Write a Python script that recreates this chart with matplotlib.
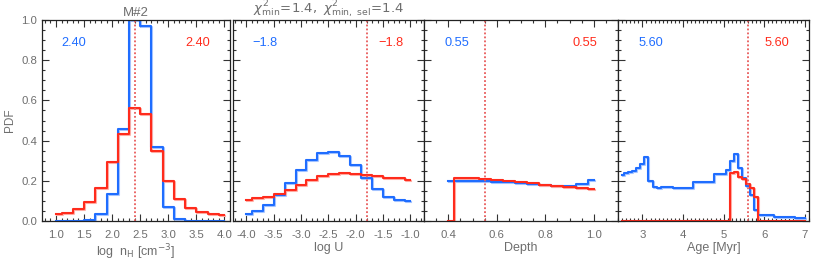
import matplotlib
matplotlib.use("Agg")
import matplotlib.pyplot as plt
from matplotlib.ticker import MultipleLocator, FormatStrFormatter
from matplotlib.transforms import offset_copy

plt.rcParams['font.family'] = ['Liberation Sans', 'DejaVu Sans']
plt.rcParams['mathtext.fontset'] = 'dejavusans'

# bin centres and PDFs
nh_x = [1.0, 1.2, 1.4, 1.6, 1.8, 2.0, 2.2, 2.4, 2.6, 2.8, 3.0, 3.2, 3.4, 3.6, 3.8, 4.0]
nh_blue = [0.0, 0.0, 0.0, 0.005, 0.033, 0.136, 0.46, 1.0, 0.97, 0.37, 0.068, 0.008, 0.002, 0.0, 0.0, 0.0]
nh_red = [0.033, 0.041, 0.06, 0.096, 0.163, 0.293, 0.431, 0.56, 0.534, 0.35, 0.199, 0.108, 0.063, 0.043, 0.035, 0.028]

logu_x = [-4.0, -3.8, -3.6, -3.4, -3.2, -3.0, -2.8, -2.6, -2.4, -2.2, -2.0, -1.8, -1.6, -1.4, -1.2, -1.0]
logu_blue = [0.036, 0.051, 0.081, 0.129, 0.19, 0.252, 0.305, 0.34, 0.345, 0.325, 0.277, 0.214, 0.158, 0.121, 0.106, 0.101]
logu_red = [0.106, 0.114, 0.121, 0.134, 0.154, 0.179, 0.203, 0.222, 0.234, 0.239, 0.235, 0.227, 0.222, 0.215, 0.212, 0.205]

depth_x = [0.4, 0.45, 0.5, 0.55, 0.6, 0.65, 0.7, 0.75, 0.8, 0.85, 0.9, 0.95, 1.0]
depth_blue = [0.2, 0.2, 0.2, 0.199, 0.196, 0.193, 0.19, 0.185, 0.18, 0.176, 0.175, 0.183, 0.205]
depth_red = [0.0, 0.216, 0.213, 0.209, 0.205, 0.2, 0.195, 0.187, 0.181, 0.175, 0.17, 0.166, 0.161]

age_x = [2.5, 2.6, 2.7, 2.8, 2.9, 3.0, 3.1, 3.2, 3.3, 3.4, 3.5, 4.0, 4.5,
         5.0, 5.1, 5.2, 5.3, 5.4, 5.5, 5.6, 5.7, 5.8, 5.9, 6.0, 6.5, 7.0]
age_blue = [0.229, 0.237, 0.242, 0.25, 0.265, 0.284, 0.317, 0.2, 0.171, 0.163, 0.171, 0.166, 0.196,
            0.232, 0.254, 0.3, 0.332, 0.262, 0.215, 0.176, 0.129, 0.055, 0.03, 0.03, 0.021, 0.014]
age_red = [0, 0, 0, 0, 0, 0, 0, 0, 0, 0, 0, 0, 0,
           0, 0, 0.24, 0.245, 0.22, 0.207, 0.183, 0.166, 0.118, 0, 0, 0, 0]

best_labels = ['2.40', '\u22121.8', '0.55', '5.60']
best_vals = [2.40, -1.8, 0.55, 5.60]
xlabels = [r'log  n$_{\rm H}$ [cm$^{-3}$]', 'log U', 'Depth', 'Age [Myr]']
titles = ['M#2', r'$\chi^2_{\rm min}\!=\!1.4,\ \chi^2_{\rm min,\ sel}\!=\!1.4$', '', '']

BLUE = '#1f6dff'
RED = '#ff2b1c'
GREY = '#6e6e6e'

fig = plt.figure(figsize=(8.30, 2.61), dpi=100)
W, H = 830.0, 261.0
boxes = [(42, 188), (232.7, 191.3), (424, 194), (618, 191)]
xlims = [(0.75, 4.1), (-4.25, -0.75), (0.3, 1.1), (2.4, 7.1)]
majors = [0.5, 0.5, 0.2, 1.0]
minors = [0.1, 0.1, 0.05, 0.1]
data = [(nh_x, nh_blue, nh_red), (logu_x, logu_blue, logu_red),
        (depth_x, depth_blue, depth_red), (age_x, age_blue, age_red)]

for i in range(4):
    left, width = boxes[i]
    ax = fig.add_axes([left / W, 40 / H, width / W, 201 / H])
    x, yb, yr = data[i]
    halo = offset_copy(ax.transData, fig=fig, x=1, y=-1, units='dots')
    ax.step(x, yb, where='mid', color='#a8c6ff', lw=1.5, transform=halo)
    ax.step(x, yr, where='mid', color='#ffb0a8', lw=1.5, transform=halo)
    ax.step(x, yb, where='mid', color=BLUE, lw=1.5)
    ax.step(x, yr, where='mid', color=RED, lw=1.5)
    ax.axvline(best_vals[i], color='#e85a5a', lw=1.3, ls=(0, (1, 1.2)))

    ax.set_xlim(xlims[i])
    ax.set_ylim(0, 1.0)
    ax.xaxis.set_major_locator(MultipleLocator(majors[i]))
    ax.xaxis.set_minor_locator(MultipleLocator(minors[i]))
    ax.yaxis.set_major_locator(MultipleLocator(0.2))
    ax.yaxis.set_minor_locator(MultipleLocator(0.05))
    ax.tick_params(which='both', direction='in', top=True, right=True,
                   colors='#333333', labelcolor=GREY, labelsize=8.2, width=0.8)
    ax.tick_params(which='major', length=5)
    ax.tick_params(which='minor', length=2.5)
    ax.tick_params(axis='x', pad=6.5)
    ax.tick_params(axis='y', pad=3.5)
    for s in ax.spines.values():
        s.set_color('#222222')
        s.set_linewidth(0.9)

    if i == 0:
        ax.xaxis.set_major_formatter(FormatStrFormatter('%.1f'))
        ax.yaxis.set_major_formatter(FormatStrFormatter('%.1f'))
        ax.set_ylabel('PDF', color=GREY, fontsize=8.5, labelpad=4)
    elif i == 3:
        ax.xaxis.set_major_formatter(FormatStrFormatter('%d'))
        ax.set_yticklabels([])
    else:
        ax.xaxis.set_major_formatter(FormatStrFormatter('%.1f'))
        ax.set_yticklabels([])

    ax.set_xlabel(xlabels[i], color=GREY, fontsize=9, labelpad=1.5)
    if titles[i]:
        ax.set_title(titles[i], color=GREY, fontsize=9.5, pad=3)

    ax.text(0.105, 0.886, best_labels[i], color=BLUE, fontsize=9.2,
            transform=ax.transAxes, ha='left', va='center')
    ax.text(0.895, 0.886, best_labels[i], color=RED, fontsize=9.2,
            transform=ax.transAxes, ha='right', va='center')

plt.savefig('out.png', dpi=100)
